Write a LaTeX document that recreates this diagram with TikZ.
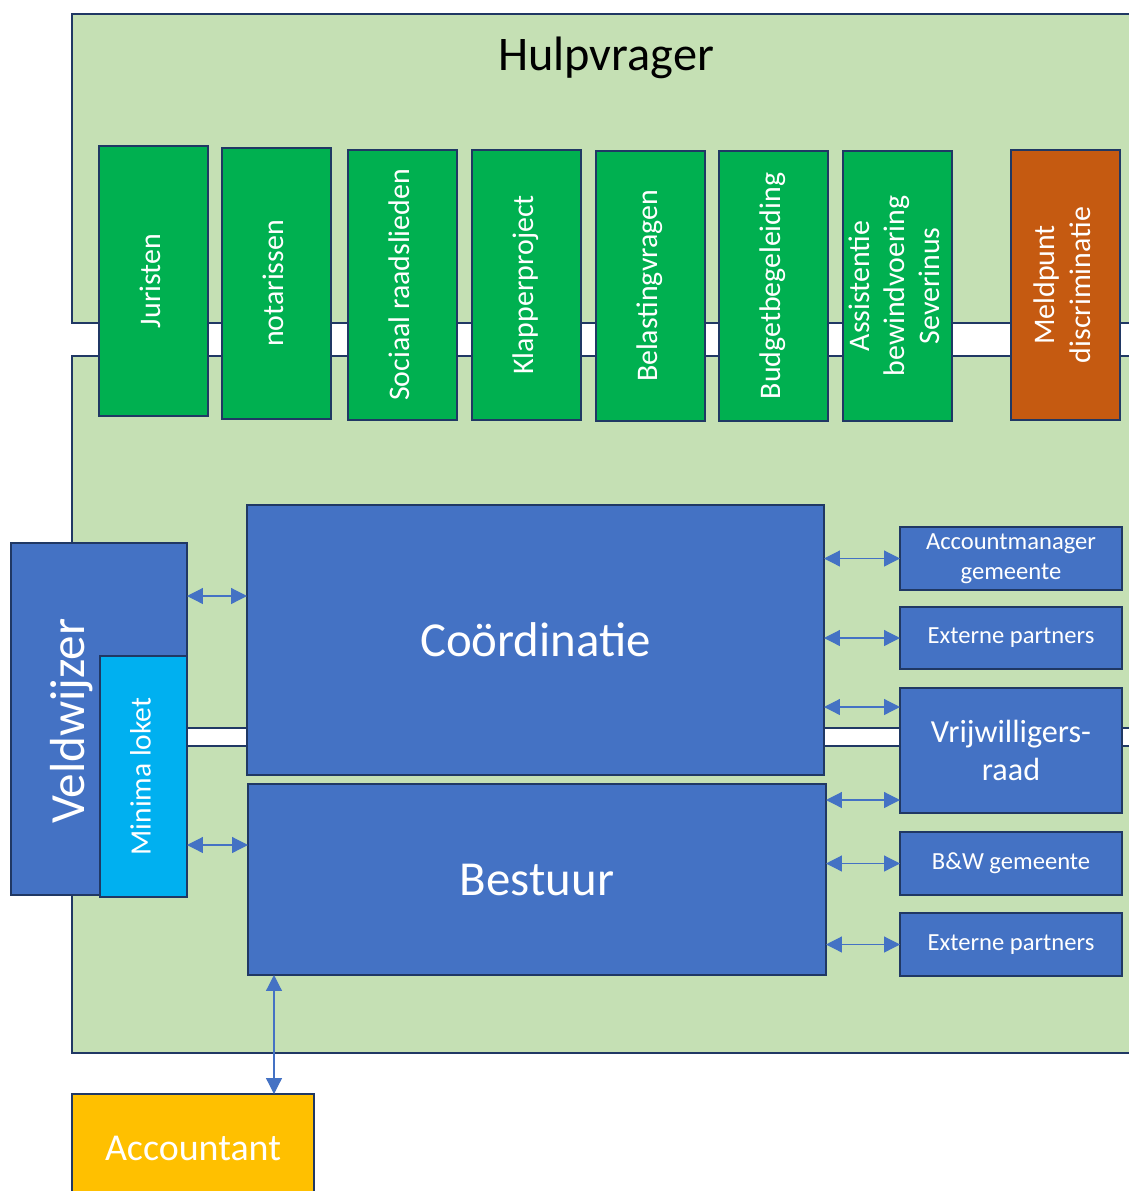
\documentclass[tikz,border=0pt]{standalone}
\usepackage{fontspec}
\setmainfont{Carlito}
\usepackage{graphicx}
\usepackage{xcolor}
\usetikzlibrary{arrows.meta,calc}

\definecolor{bgGreen}{HTML}{C5E0B4}
\definecolor{boxGreen}{HTML}{00B050}
\definecolor{boxOrange}{HTML}{C55A11}
\definecolor{boxBlue}{HTML}{4472C4}
\definecolor{boxCyan}{HTML}{00B0F0}
\definecolor{boxGold}{HTML}{FFC000}
\definecolor{edgeNavy}{HTML}{203864}

\begin{document}
\begin{tikzpicture}[x=0.02cm,y=-0.02cm,
	area/.style={draw=edgeNavy, line width=1.1pt, fill=bgGreen},
	boxsize/.style 2 args={anchor=north west, minimum width=#1*0.02cm, minimum height=#2*0.02cm},
	boxbase/.style={draw=edgeNavy, line width=1.3pt, inner sep=0pt, outer sep=0pt, text=white},
	greenbox/.style={boxbase, fill=boxGreen, font=\fontsize{17}{20}\selectfont},
	bluebox/.style={boxbase, fill=boxBlue},
	sidebox/.style={bluebox, font=\fontsize{14}{17}\selectfont, align=center},
	biarrow/.style={draw=boxBlue, line width=0.7pt, {Triangle[length=9pt,width=9pt]}-{Triangle[length=9pt,width=9pt]}}]
	\newcommand\VText[1]{\rotatebox{90}{\begin{tabular}{@{}c@{}}#1\end{tabular}}}

	\clip (0,0) rectangle (1129,1191);

	% background bands
	\draw[area] (72,14) rectangle (1145,323);
	\draw[area] (72,356) rectangle (1145,728);
	\draw[area] (72,746) rectangle (1145,1053);

	\node[font=\fontsize{27.5}{33}\selectfont] (title) at (606,58) {Hulpvrager};

	% top row
	\node[greenbox, boxsize={109}{270}] (jur) at (99,146) {\VText{Juristen}};
	\node[greenbox, boxsize={109}{271}] (not) at (222,148) {\VText{notarissen}};
	\node[greenbox, boxsize={109}{270}] (soc) at (348,150) {\VText{Sociaal raadslieden}};
	\node[greenbox, boxsize={109}{270}] (klap) at (472,150) {\VText{Klapperproject}};
	\node[greenbox, boxsize={109}{270}] (bel) at (596,151) {\VText{Belastingvragen}};
	\node[greenbox, boxsize={109}{270}] (bud) at (719,151) {\VText{Budgetbegeleiding}};
	\node[greenbox, boxsize={109}{270}] (ass) at (843,151) {\VText{Assistentie\\bewindvoering\\Severinus}};
	\node[greenbox, fill=boxOrange, boxsize={109}{270}] (meld) at (1011,150) {\VText{Meldpunt\\discriminatie}};

	% centre
	\node[bluebox, font=\fontsize{27.8}{33}\selectfont, boxsize={577}{270}] (coord) at (247,505) {Coördinatie};
	\node[bluebox, font=\fontsize{27.8}{33}\selectfont, boxsize={578}{191}] (best) at (248,784) {Bestuur};

	% left
	\node[bluebox, boxsize={176}{352}] (veld) at (11,543) {};
	\node[text=white, rotate=90, font=\fontsize{28}{33}\selectfont] (veldtxt) at (72,721) {Veldwijzer};
	\node[boxbase, fill=boxCyan, font=\fontsize{16.8}{20}\selectfont, boxsize={87}{241}] (mini) at (100,656) {\VText{Minima loket}};

	% right
	\node[sidebox, boxsize={222}{63}] (am) at (900,527) {Accountmanager\\gemeente};
	\node[sidebox, boxsize={222}{62}] (ep1) at (900,607) {Externe partners};
	\node[sidebox, font=\fontsize{18.3}{22}\selectfont, boxsize={222}{125}] (vrijw) at (900,688) {Vrijwilligers-\\raad};
	\node[sidebox, boxsize={222}{63}] (bw) at (900,832) {B\&W gemeente};
	\node[sidebox, boxsize={222}{63}] (ep2) at (900,913) {Externe partners};

	\node[boxbase, fill=boxGold, font=\fontsize{21.6}{26}\selectfont, boxsize={242}{108}] (acc) at (72,1094) {Accountant};

	% connectors
	\coordinate (vc) at ($(coord.north west)+(0,91)$);
	\draw[biarrow] (veld.east |- vc) -- (vc);
	\coordinate (mb) at ($(best.north west)+(0,61)$);
	\draw[biarrow] (mini.east |- mb) -- (mb);
	\draw[biarrow] (coord.east |- am.west) -- (am.west);
	\draw[biarrow] (coord.east |- ep1.west) -- (ep1.west);
	\coordinate (vr1) at ($(vrijw.north west)+(0,19)$);
	\draw[biarrow] (coord.east |- vr1) -- (vr1);
	\coordinate (vr2) at ($(vrijw.south west)+(0,-13)$);
	\draw[biarrow] (best.east |- vr2) -- (vr2);
	\draw[biarrow] (best.east |- bw.west) -- (bw.west);
	\draw[biarrow] (best.east |- ep2.west) -- (ep2.west);
	\coordinate (ba) at ($(best.south west)+(26,0)$);
	\draw[biarrow] (ba) -- (ba |- acc.north);
\end{tikzpicture}
\end{document}
